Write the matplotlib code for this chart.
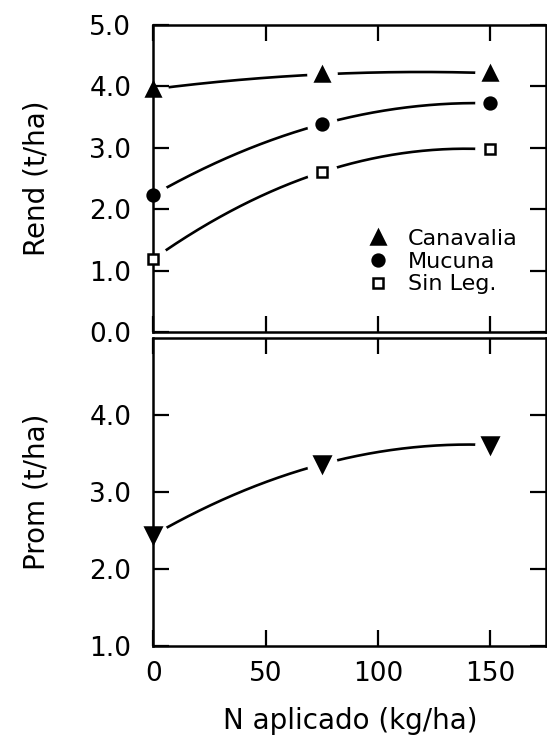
import numpy as np
import matplotlib
matplotlib.use("Agg")
import matplotlib.pyplot as plt

# N applied (kg/ha) and yields (t/ha)
n_aplicado = [0, 75, 150]
canavalia = [3.95, 4.19, 4.21]
mucuna = [2.23, 3.38, 3.72]
sin_leg = [1.19, 2.60, 2.97]
promedio = [2.44, 3.36, 3.61]

top_yticks = [0, 1, 2, 3, 4, 5]
bottom_yticks = [1, 2, 3, 4]
xticks = [0, 50, 100, 150]

plt.rcParams["font.family"] = "DejaVu Sans"

fig = plt.figure(figsize=(5.47, 7.37), dpi=100)
ax1 = fig.add_axes([0.2806, 0.5495, 0.7176, 0.4172])
ax2 = fig.add_axes([0.2806, 0.1235, 0.7176, 0.4180])

xs = np.linspace(0, 150, 300)


def draw_series(ax, y, marker, ms, filled=True, label=None):
    # quadratic fit through the points, like the original regression curves
    coef = np.polyfit(n_aplicado, y, 2)
    ax.plot(xs, np.polyval(coef, xs), color="black", lw=1.9, zorder=1)
    # white halo to break the curve around each marker
    ax.plot(n_aplicado, y, linestyle="none", marker="o", ms=21,
            mfc="white", mec="white", zorder=1.5)
    ax.plot(n_aplicado, y, linestyle="none", marker=marker, ms=ms,
            mfc="black" if filled else "white", mec="black", mew=1.8,
            zorder=3, clip_on=False, label=label)


draw_series(ax1, canavalia, "^", 10, label="Canavalia")
draw_series(ax1, mucuna, "o", 8.5, label="Mucuna")
draw_series(ax1, sin_leg, "s", 7.5, filled=False, label="Sin Leg.")
draw_series(ax2, promedio, "v", 11)

for ax in (ax1, ax2):
    ax.set_xlim(0, 175)
    ax.set_xticks(xticks)
    ax.tick_params(direction="in", length=11.5, width=1.6, top=True, right=True,
                   labelsize=19, pad=16)
    for sp in ax.spines.values():
        sp.set_linewidth(1.8)

ax1.set_ylim(0, 5)
ax1.set_yticks(top_yticks)
ax1.set_yticklabels([f"{v:.1f}" for v in top_yticks])
ax1.tick_params(labelbottom=False)
ax1.set_ylabel("Rend (t/ha)", fontsize=20, labelpad=28)

ax2.set_ylim(1, 5)
ax2.set_yticks(bottom_yticks)
ax2.set_yticklabels([f"{v:.1f}" for v in bottom_yticks])
ax2.tick_params(axis="x", pad=11)
ax2.set_ylabel("Prom (t/ha)", fontsize=20, labelpad=28)
ax2.set_xlabel("N aplicado (kg/ha)", fontsize=20, labelpad=14)

ax1.legend(loc="upper left", bbox_to_anchor=(0.546, 0.335), frameon=False,
           fontsize=16, handlelength=0.9, handletextpad=0.9, labelspacing=0.12,
           borderpad=0, borderaxespad=0, numpoints=1)

fig.savefig("out.png", dpi=100)
